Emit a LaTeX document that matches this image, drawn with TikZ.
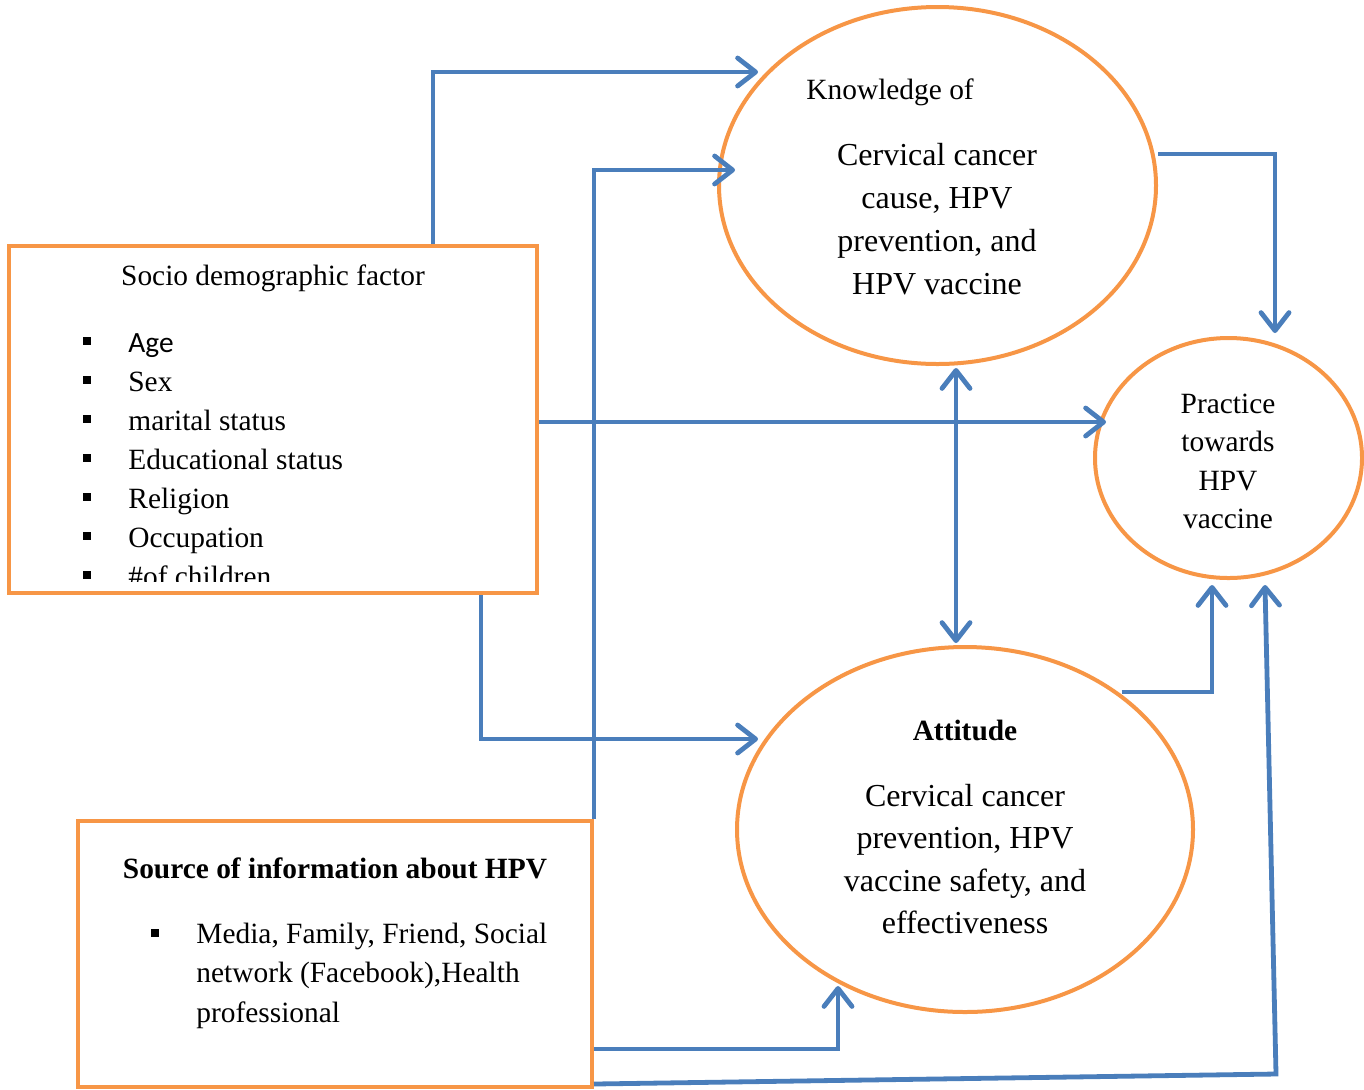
\documentclass[tikz,border=0pt]{standalone}
\usepackage{fontspec}
\setmainfont{Liberation Serif}
\newfontfamily\calibri{Carlito}
\usetikzlibrary{arrows.meta,shapes.geometric,calc}
\definecolor{boxorange}{HTML}{F79646}
\definecolor{linkblue}{HTML}{4A7EBB}
\tikzset{
  box/.style={draw=boxorange, line width=2pt, rectangle, inner sep=0pt},
  oval/.style={draw=boxorange, line width=2pt, ellipse, inner sep=0pt},
  txt/.style={anchor=base, inner sep=0pt, font=\fontsize{14.7}{17}\selectfont},
  bigtxt/.style={txt, font=\fontsize{16}{19}\selectfont},
  item/.style={txt, anchor=base west},
  sqdot/.style={fill=black, inner sep=0pt, minimum size=4pt},
  barb/.tip={Straight Barb[length=9pt,width=14pt,line cap=round,line join=round]},
  link/.style={draw=linkblue, line width=2.4pt, -barb},
}
\begin{document}
\begin{tikzpicture}[x=0.5pt,y=-0.5pt]
    \useasboundingbox (0,0) rectangle (1364,1089);
    \node[box, minimum width=264pt, minimum height=173.5pt] (socio) at (273,419.5) {};
    \node[box, minimum width=257pt, minimum height=133pt] (source) at (335,954) {};
    \node[oval, minimum width=218.5pt, minimum height=178.5pt] (know) at (937.5,185.5) {};
    \node[oval, minimum width=228pt, minimum height=182.5pt] (att) at (965,829.5) {};
    \node[oval, minimum width=133.5pt, minimum height=120pt] (practice) at (1228.5,458) {};
    \begin{scope}
      \node[txt] (soctitle) at (273,285) {Socio demographic factor};
      \clip (9,246) rectangle (537,581);
      \foreach \t [count=\i from 0] in {{\calibri Age},Sex,marital status,Educational status,Religion,Occupation,\#of children}{
        \node[sqdot] (sb\i) at (87,341+39*\i) {};
        \node[item] (si\i) at (128,352+39*\i) {\t};
      }
    \end{scope}
    \begin{scope}
      \node[txt] (srctitle) at (335,878) {\bfseries Source of information about HPV};
      \node[sqdot] (srcb) at (155,933) {};
      \foreach \t [count=\i from 0] in {{Media, Family, Friend, Social},{network (Facebook),Health},professional}{
        \node[item] (sl\i) at (196,943+39.5*\i) {\t};
      }
    \end{scope}
    \node[item] (kh) at (806,99) {Knowledge of};
    \foreach \t [count=\i from 0] in {Cervical cancer,{cause, HPV},{prevention, and},HPV vaccine}{
      \node[bigtxt] (kl\i) at (937,165+43*\i) {\t};
    }
    \node[txt] (ah) at (965,740) {\bfseries Attitude};
    \foreach \t [count=\i from 0] in {Cervical cancer,{prevention, HPV},{vaccine safety, and},effectiveness}{
      \node[bigtxt] (al\i) at (965,806+42.5*\i) {\t};
    }
    \foreach \t [count=\i from 0] in {Practice,towards,HPV,vaccine}{
      \node[txt] (pl\i) at (1228,413+38.5*\i) {\t};
    }
    \coordinate (kin1) at (758,72);
    \coordinate (kin2) at (735,170);
    \coordinate (pin1) at (1106,422);
    \coordinate (ain1) at (758,739);
    \coordinate (ain2) at (838,986);
    \coordinate (lowbend) at (1276,1074);
    \draw[link] ($(socio.north)+(160,0)$) |- (kin1);
    \draw[link] (source.north east) |- (kin2);
    \draw[link] ($(socio.east)+(0,2.5)$) -- (pin1);
    \draw[link, barb-barb] ($(know.south)+(18.5,2)$) -- ($(att.north)+(-9,-2)$);
    \draw[link] ($(know.east)+(0,-31.5)$) -| ($(practice.north)+(46.5,-3)$);
    \draw[link] ($(att.north east)+(-6,-7)$) -| ($(practice.south)+(-16.5,5)$);
    \draw[link] ($(socio.south)+(208,0)$) |- (ain1);
    \draw[link] ($(source.east)+(0,95)$) -| (ain2);
    \draw[link] ($(source.south east)+(0,-5)$) -- (lowbend) -- ($(practice.south)+(36.5,5)$);
\end{tikzpicture}
\end{document}
